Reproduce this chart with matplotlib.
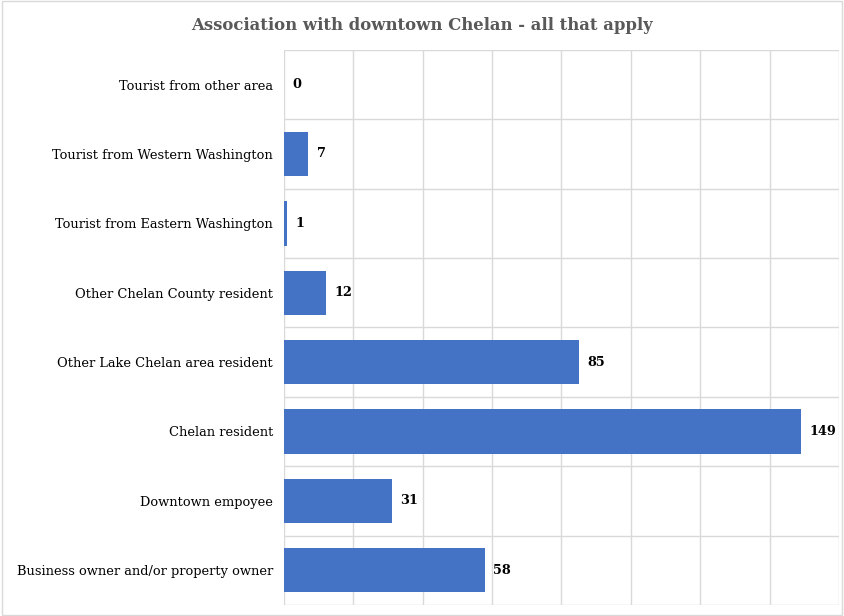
import matplotlib.pyplot as plt
import matplotlib.patches as mpatches
import numpy as np

categories = [
    "Business owner and/or property owner",
    "Downtown empoyee",
    "Chelan resident",
    "Other Lake Chelan area resident",
    "Other Chelan County resident",
    "Tourist from Eastern Washington",
    "Tourist from Western Washington",
    "Tourist from other area",
]
counts = [58, 31, 149, 85, 12, 1, 7, 0]
title = "Association with downtown Chelan - all that apply"

BAR_COLOR = "#4472C4"
GRID_COLOR = "#D9D9D9"
FONT = ["DejaVu Serif", "Liberation Serif"]

plt.rcParams["font.family"] = FONT

fig = plt.figure(figsize=(8.44, 6.16), dpi=100)
ax = fig.add_axes([0.3365, 0.018, 0.6575, 0.901])

y = np.arange(len(categories))
ax.barh(y, counts, height=0.64, color=BAR_COLOR, zorder=3)

for yi, v in zip(y, counts):
    ax.text(v + 2.4, yi, str(v), va="center", ha="left",
            fontsize=9.3, fontweight="bold", color="#000000", zorder=4)

ax.set_xlim(0, 160)
ax.set_ylim(-0.5, len(categories) - 0.5)
ax.set_xticks(np.arange(0, 161, 20))
ax.set_xticklabels([])
ax.set_yticks(y)
ax.set_yticklabels(categories, fontsize=9.4, color="#000000", va="center_baseline")
ax.set_yticks(np.arange(-0.5, len(categories), 1), minor=True)
ax.tick_params(axis="both", which="both", length=0)
ax.tick_params(axis="y", pad=8)
ax.grid(axis="x", which="major", color=GRID_COLOR, linewidth=1, zorder=0)
ax.grid(axis="y", which="minor", color=GRID_COLOR, linewidth=1, zorder=0)
for spine in ax.spines.values():
    spine.set_visible(False)

fig.text(0.5, 0.958, title, ha="center", va="center", fontsize=11.9,
         fontweight="bold", color="#595959")

# chart border
border = mpatches.Rectangle((0.002, 0.002), 0.996, 0.996, transform=fig.transFigure,
                            fill=False, edgecolor="#D9D9D9", linewidth=1)
fig.patches.append(border)

fig.savefig("out.png", dpi=100)
